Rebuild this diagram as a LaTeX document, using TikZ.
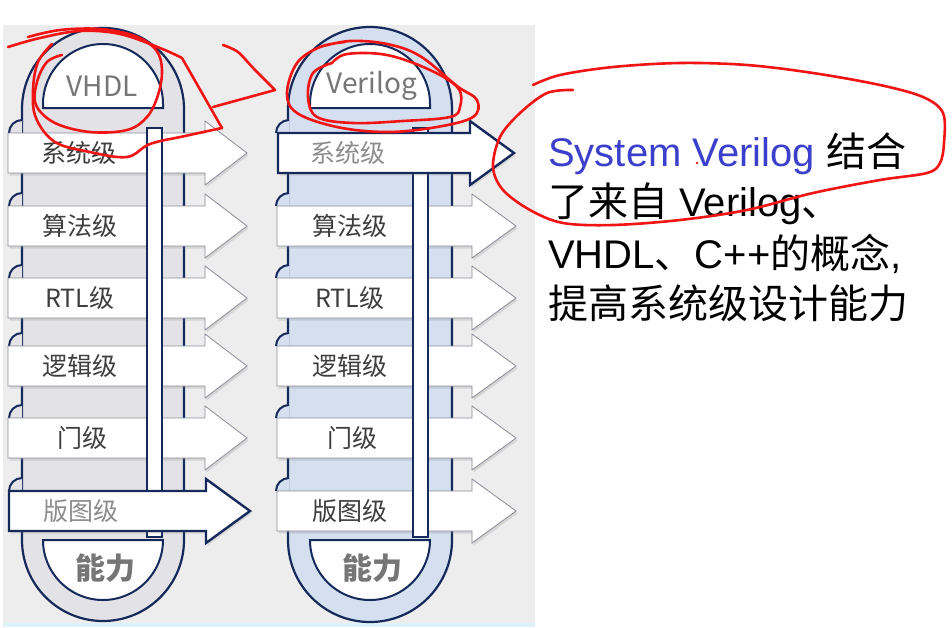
\documentclass[tikz,border=0pt]{standalone}
\usepackage{fontspec}
\setmainfont{Liberation Sans}
\newfontfamily\cjk{Noto Sans CJK SC}
\usetikzlibrary{shadows}
\definecolor{navy}{HTML}{15295A}
\definecolor{capgray}{HTML}{E3E3E7}
\definecolor{capblue}{HTML}{D4DFF0}
\definecolor{panelgray}{HTML}{EDEDED}
\definecolor{arrowline}{HTML}{8A8C99}
\definecolor{lbl}{HTML}{3E3E3E}
\definecolor{lbllight}{HTML}{8C8C8C}
\definecolor{titlegray}{HTML}{767676}
\definecolor{sysblue}{HTML}{3B3FCB}
\definecolor{penred}{HTML}{F01414}
\definecolor{edgecyan}{HTML}{DDF3F9}
\tikzset{
  capsule/.style={draw=navy, line width=2.2pt},
  halfdisk/.style={draw=navy, line width=2pt, fill=white},
  normarrow/.style={draw=arrowline, line width=0.8pt, fill=white,
    drop shadow={shadow xshift=1.5pt, shadow yshift=-2.5pt, opacity=0.22}},
  hiarrow/.style={draw=navy, line width=2.4pt, fill=white, line join=miter,
    drop shadow={shadow xshift=1.5pt, shadow yshift=-2.5pt, opacity=0.22}},
  barbox/.style={draw=navy, line width=2pt, fill=white},
  curl/.style={draw=navy, line width=2pt},
  lvl/.style={font=\cjk\fontsize{25}{25}\selectfont, text=lbl, inner sep=0pt},
  lvllight/.style={lvl, text=lbllight},
  lang/.style={font=\cjk\fontsize{28}{28}\selectfont, text=titlegray, inner sep=0pt},
  power/.style={font=\cjk\bfseries\fontsize{30}{30}\selectfont, text=titlegray, inner sep=0pt},
  bodytext/.style={font=\fontsize{40}{40}\selectfont, anchor=base west, inner sep=0pt},
  pen/.style={draw=penred, line width=2.6pt, line cap=round, line join=round},
}
% #1 style, #2 left x, #3 head x, #4 tip x, #5 centre y
\newcommand\lvlarrow[5]{%
  \path[#1] (#2,#5-20) -- (#3,#5-20) -- (#3,#5-32) -- (#4,#5) -- (#3,#5+32)
    -- (#3,#5+20) -- (#2,#5+20) -- cycle;}
% #1 capsule edge x, #2 centre y, #3 fill
\newcommand\lvlcurl[3]{%
  \fill[#3] (#1,#2-33) arc[start angle=90,end angle=180,radius=13pt] -- (#1,#2-20) -- cycle;
  \draw[curl] (#1,#2-33) arc[start angle=90,end angle=180,radius=13pt];}
\begin{document}
\begin{tikzpicture}[x=1pt,y=-1pt]
\useasboundingbox (0,0) rectangle (952,627);
\fill[white] (0,0) rectangle (952,627);
% panel
\fill[panelgray] (3,25) rectangle (535,625);
\fill[edgecyan] (3,623) rectangle (535,627);

% ---------- left capsule (VHDL)
\path[capsule, fill=capgray] (22,540) -- (22,109) arc[start angle=180,end angle=0,radius=81pt]
  -- (184,540) arc[start angle=0,end angle=-180,radius=81pt] -- cycle;
\path[halfdisk] (43,108) -- (43,104) arc[start angle=180,end angle=0,radius=60pt] -- (163,108) -- cycle;
\path[halfdisk] (43,540) arc[start angle=180,end angle=360,radius=60pt] -- cycle;

% ---------- right capsule (Verilog)
\path[capsule, fill=capblue] (288,540) -- (288,109) arc[start angle=180,end angle=0,radius=82pt]
  -- (452,540) arc[start angle=0,end angle=-180,radius=82pt] -- cycle;
\path[halfdisk] (310,108) -- (310,104) arc[start angle=180,end angle=0,radius=60pt] -- (430,108) -- cycle;
\path[halfdisk] (310,540) arc[start angle=180,end angle=360,radius=60pt] -- cycle;

% ---------- curls
\foreach \yc in {153,226,298,366,438,511}{
  \lvlcurl{22}{\yc}{capgray}
  \lvlcurl{289}{\yc}{capblue}
}

% ---------- normal arrows
\foreach \yc in {153,226,298,366,438}{
  \lvlarrow{normarrow}{8}{205}{247}{\yc}
}
\foreach \yc in {226,298,366,438,511}{
  \lvlarrow{normarrow}{277}{472}{516}{\yc}
}

% ---------- vertical bars
\path[barbox] (147,128) rectangle (162,537);
\path[barbox] (413,128) rectangle (428,537);

% ---------- highlighted arrows
\lvlarrow{hiarrow}{9}{206}{250}{511}
\lvlarrow{hiarrow}{278}{470}{514}{153}

% ---------- titles
\node[lang] (vhdl) at (102,86) {VHDL};
\node[lang] (verilog) at (372,86) {Verilog};
\node[power] (powL) at (105,568) {能力};
\node[power] (powR) at (372,568) {能力};

% ---------- level labels
\node[lvl] (l1) at (79,153) {系统级};
\node[lvl] (l2) at (80,226) {算法级};
\node[lvl] (l3) at (80,298) {RTL级};
\node[lvl] (l4) at (80,366) {逻辑级};
\node[lvl] (l5) at (82,438) {门级};
\node[lvllight] (l6) at (81,511) {版图级};

\node[lvllight] (r1) at (348,153) {系统级};
\node[lvl] (r2) at (350,226) {算法级};
\node[lvl] (r3) at (350,298) {RTL级};
\node[lvl] (r4) at (350,366) {逻辑级};
\node[lvl] (r5) at (352,438) {门级};
\node[lvl] (r6) at (350,511) {版图级};

% ---------- explanatory text
\node[bodytext] (t1) at (548,166) {\textcolor{sysblue}{System Verilog} {\cjk 结合}};
\node[bodytext] (t2) at (548,216) {{\cjk 了来自} Verilog{\cjk 、}};
\node[bodytext] (t3) at (548,268) {VHDL{\cjk 、}C++{\cjk 的概念},};
\node[bodytext] (t4) at (548,318) {{\cjk 提高系统级设计能力}};
\fill[penred] (697,163) circle[radius=1.3pt];

% ---------- red pen annotations
\draw[pen] plot[smooth, tension=0.6] coordinates {(8,47) (40,38) (80,31) (120,34) (160,48) (182,58)} -- (222,128);
\draw[pen] plot[smooth, tension=0.6] coordinates {(222,128) (185,136) (150,144) (127,157) (90,152) (55,142) (36,118) (33,90) (38,62) (52,44)};
\draw[pen] plot[smooth, tension=0.6] coordinates {(62,55) (47,62) (37,82) (36,105) (55,123) (90,132) (127,130) (147,117) (158,95) (162,70) (156,50) (135,36) (100,29) (60,30) (28,37)};
\draw[pen] plot[smooth, tension=0.5] coordinates {(223,45) (238,52) (255,70) (275,90)} -- (213,107);
\draw[pen] plot[smooth, tension=0.6] coordinates {(320,47) (350,41) (387,44) (420,56) (457,86) (477,100) (473,117) (437,127) (387,132) (337,127) (297,113) (287,93) (297,63) (320,47) (345,42)};
\draw[pen] plot[smooth, tension=0.6] coordinates {(332,63) (347,54) (387,55) (430,70) (458,88) (460,107) (450,117) (403,121) (353,123) (317,117) (308,97) (313,73) (332,63)};
\draw[pen] plot[smooth, tension=0.55] coordinates {(533,85) (560,75) (613,67) (680,63) (747,65) (813,73) (880,85) (923,97) (943,113) (944,143) (940,163) (927,173) (880,180) (813,193) (747,210) (680,220) (613,225) (563,223) (530,210) (503,190) (493,167) (500,137) (520,113) (547,93) (573,90)};
\end{tikzpicture}
\end{document}
